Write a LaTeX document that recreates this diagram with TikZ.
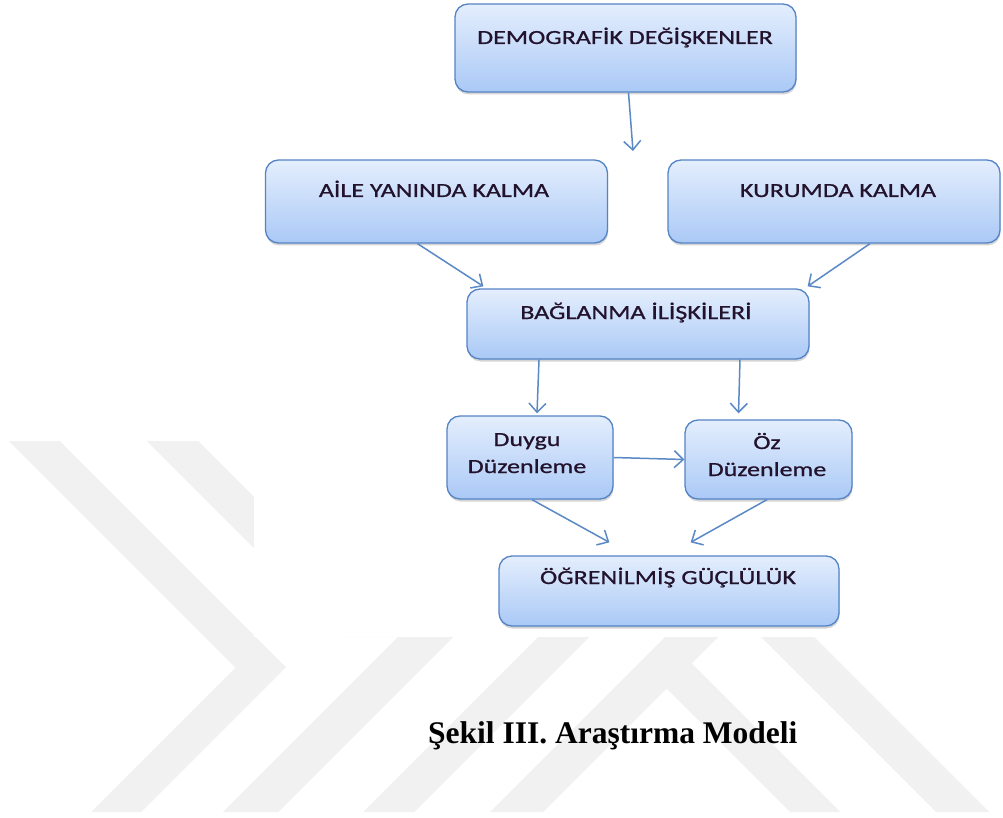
\documentclass[tikz,border=0pt]{standalone}
\usepackage{fontspec}
\setmainfont{Liberation Serif}
\newfontfamily\boxfont[FakeStretch=1.3,FakeBold=0.8]{Carlito}
\usetikzlibrary{arrows.meta,shadows}
\definecolor{wm}{RGB}{241,241,241}
\definecolor{boxtop}{RGB}{228,238,253}
\definecolor{boxbot}{RGB}{170,201,246}
\definecolor{boxline}{RGB}{84,132,198}
\definecolor{arrowc}{RGB}{90,137,198}
\definecolor{txt}{RGB}{34,18,44}
\begin{document}
\begin{tikzpicture}[x=1pt,y=-1pt,
  box/.style={draw=boxline, line width=1.3pt, rounded corners=13pt,
    top color=boxtop, bottom color=boxbot, inner sep=0pt,
    drop shadow={opacity=0.28, shadow xshift=0.5pt, shadow yshift=-2.5pt, fill=black!60}},
  lbl/.style={font=\boxfont\fontsize{20}{27}\selectfont, text=txt, align=center, inner sep=0pt},
  conn/.style={draw=arrowc, line width=1.5pt, -{Straight Barb[length=9pt,width=17pt]}},
  wmark/.style={fill=wm}]
\useasboundingbox (0,0) rectangle (1003,818);
\fill[white] (0,0) rectangle (1003,818);
% watermark
\fill[wmark] (9,441) -- (60,441) -- (286,667) -- (141,812) -- (91,812) -- (235.5,667.5) -- cycle;
\fill[wmark] (147,441) -- (198,441) -- (394,637) -- (343,637) -- cycle;
\fill[wmark] (435,600) -- (490,600) -- (278,812) -- (223,812) -- cycle;
\fill[wmark] (575,600) -- (626,600) -- (414,812) -- (363,812) -- cycle;
\fill[wmark] (702,600) -- (755,600) -- (543,812) -- (490,812) -- cycle;
\fill[wmark] (654,676) -- (679,651) -- (840,812) -- (790,812) -- cycle;
\fill[wmark] (724,600) -- (777,600) -- (989,812) -- (936,812) -- cycle;
\fill[white] (254,0) rectangle (1003,637);
% boxes
\node[box, minimum width=341pt, minimum height=88pt] (demo) at (625.5,48) {};
\node[box, minimum width=342pt, minimum height=83pt] (aile) at (436.5,201.5) {};
\node[box, minimum width=332pt, minimum height=83pt] (kurum) at (834,201.5) {};
\node[box, minimum width=342pt, minimum height=70pt] (bag) at (638,324) {};
\node[box, minimum width=166pt, minimum height=83pt] (duygu) at (530,457.5) {};
\node[box, minimum width=167pt, minimum height=79pt] (oz) at (768.5,459.5) {};
\node[box, minimum width=340pt, minimum height=70pt] (ogr) at (669,591) {};
% labels
\node[lbl, anchor=base] (demot) at (625,44) {DEMOGRAFİK DEĞİŞKENLER};
\node[lbl, anchor=base] (ailet) at (434,197) {AİLE YANINDA KALMA};
\node[lbl, anchor=base] (kurumt) at (838,197) {KURUMDA KALMA};
\node[lbl, anchor=base] (bagt) at (636,319) {BAĞLANMA İLİŞKİLERİ};
\node[lbl, anchor=base] (duygut) at (527,473) {Duygu\\Düzenleme};
\node[lbl, anchor=base] (ozt) at (767,476) {Öz\\Düzenleme};
\node[lbl, anchor=base] (ogrt) at (668,584) {ÖĞRENİLMİŞ GÜÇLÜLÜK};
% connectors
\coordinate (gap) at (633,151);
\draw[conn] ([xshift=3pt]demo.south) -- (gap);
\draw[conn] ([xshift=-19pt]aile.south) -- ([xshift=17pt,yshift=2pt]bag.north west);
\draw[conn] ([xshift=36pt]kurum.south) -- ([xshift=-2pt,yshift=2pt]bag.north east);
\draw[conn] ([xshift=-99pt]bag.south) -- ([xshift=7pt,yshift=2pt]duygu.north);
\draw[conn] ([xshift=102pt]bag.south) -- ([xshift=-30pt,yshift=6pt]oz.north);
\draw[conn] (duygu.east) -- (oz.west);
\draw[conn] ([xshift=2pt]duygu.south) -- ([xshift=111pt,yshift=13pt]ogr.north west);
\draw[conn] ([xshift=-1.5pt]oz.south) -- ([xshift=-149pt,yshift=13pt]ogr.north east);
% caption
\node[anchor=base west, inner sep=0pt, font=\bfseries\fontsize{31.5}{36}\selectfont] (cap) at (428,743) {Şekil III. Araştırma Modeli};
\end{tikzpicture}
\end{document}
